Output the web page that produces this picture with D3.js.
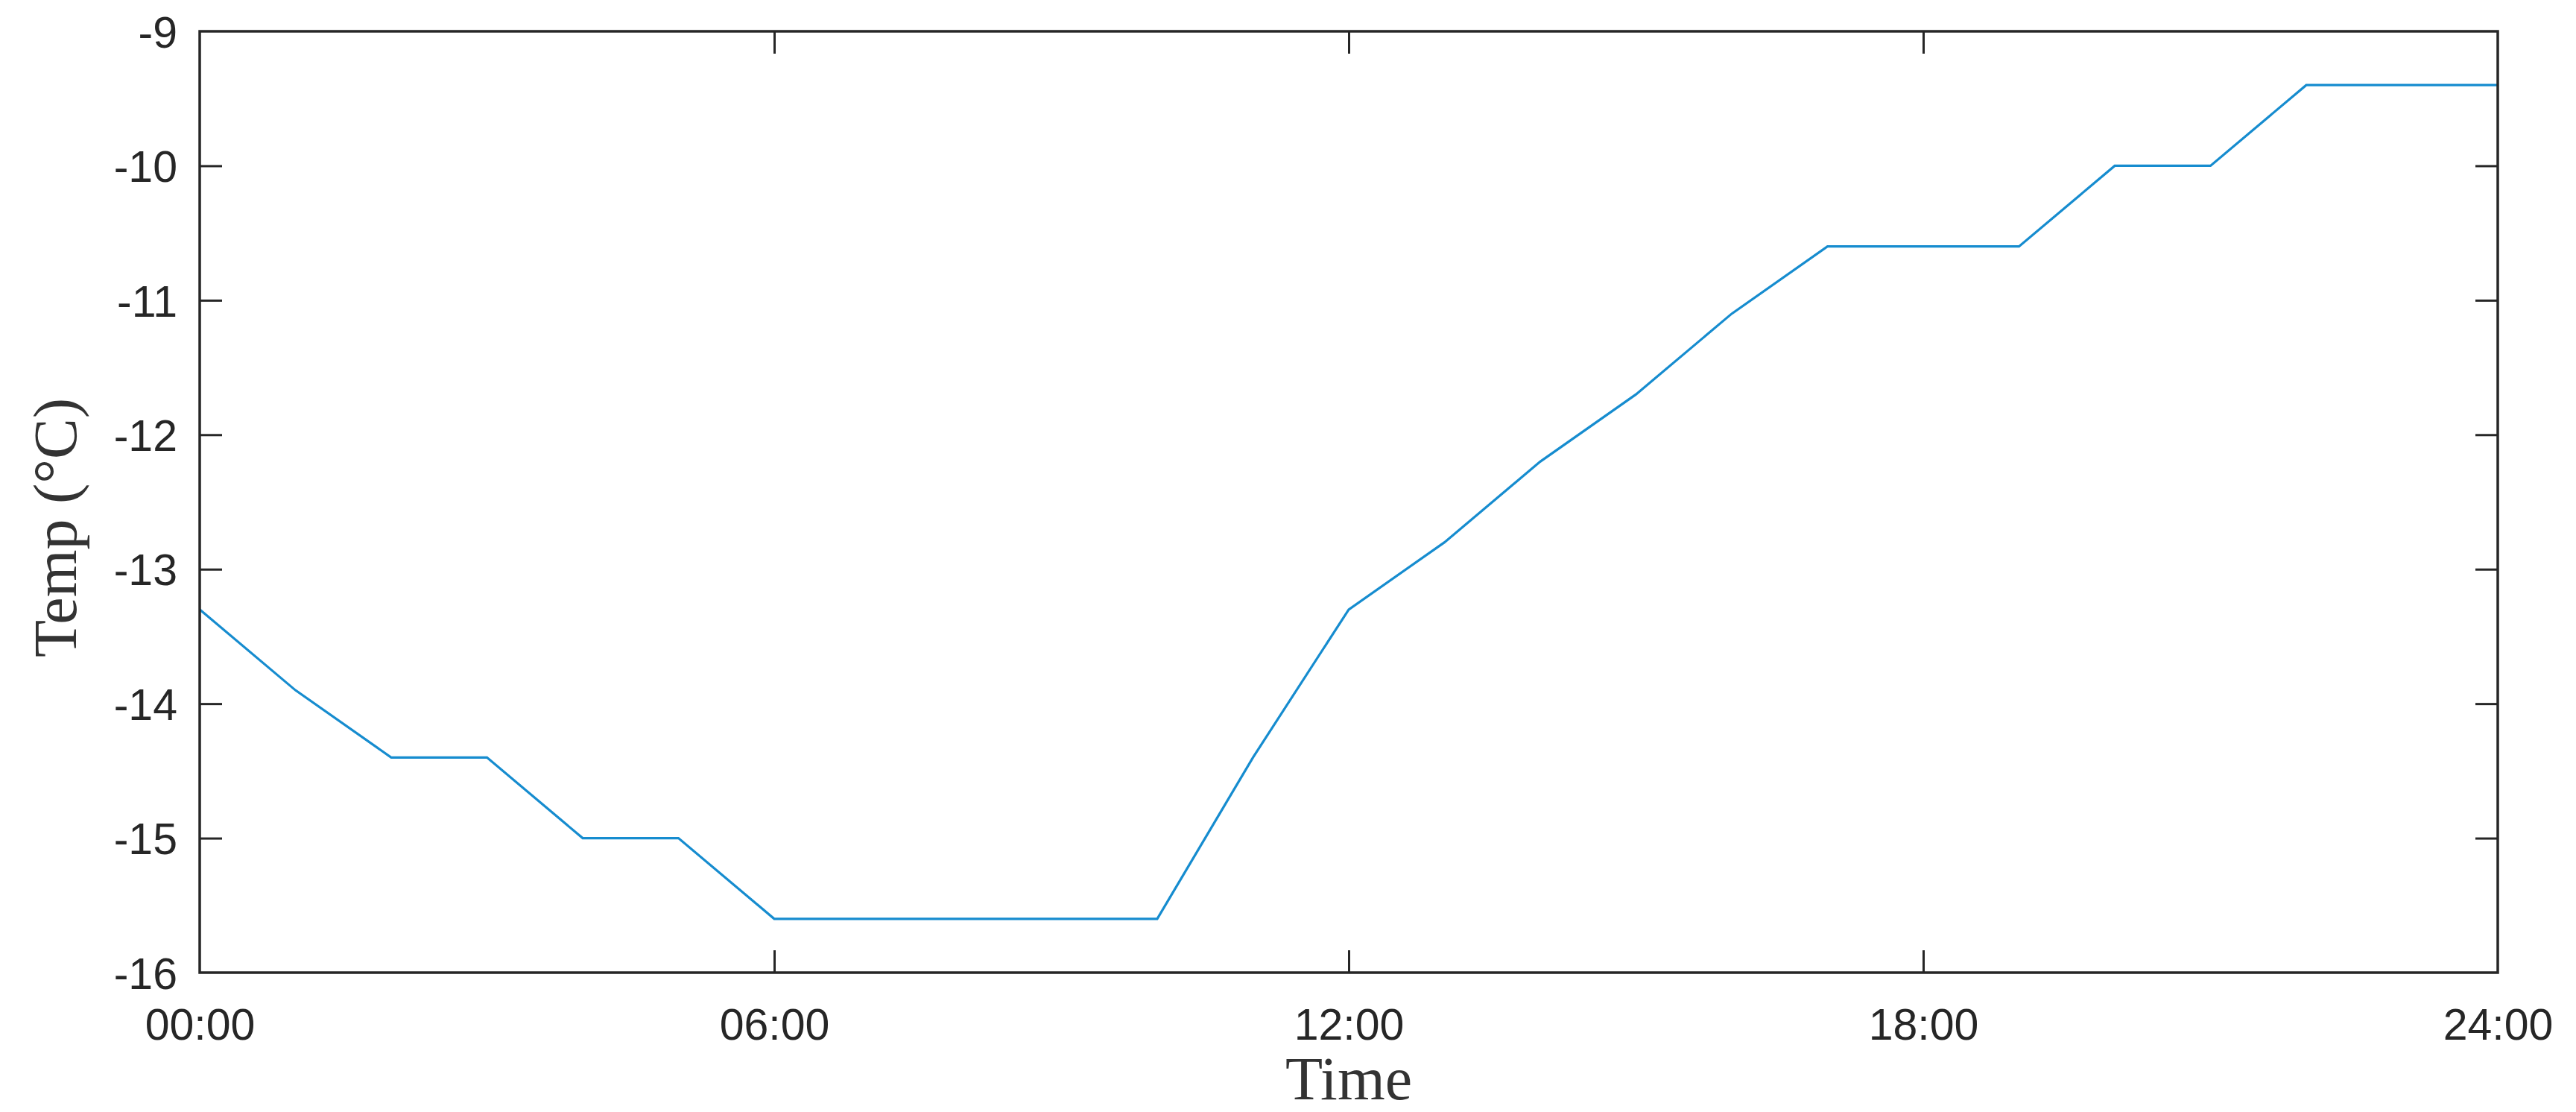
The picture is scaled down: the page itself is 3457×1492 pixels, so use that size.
<!DOCTYPE html>
<html>
<head>
<meta charset="utf-8">
<script src="https://cdn.jsdelivr.net/npm/d3@7"></script>
<style>
  html, body { margin: 0; padding: 0; background: #ffffff; }
  svg { display: block; }
</style>
</head>
<body>
<script>
// ---- data ----
const hours = [0,1,2,3,4,5,6,7,8,9,10,11,12,13,14,15,16,17,18,19,20,21,22,23,24];
const temps = [-13.3,-13.9,-14.4,-14.4,-15.0,-15.0,-15.6,-15.6,-15.6,-15.6,-15.6,-14.4,-13.3,-12.8,-12.2,-11.7,-11.1,-10.6,-10.6,-10.6,-10.0,-10.0,-9.4,-9.4,-9.4];
const xTickValues = [0, 6, 12, 18, 24];
const xTickLabels = ["00:00", "06:00", "12:00", "18:00", "24:00"];
const yTickValues = [-16, -15, -14, -13, -12, -11, -10, -9];
const yTickLabels = ["-16", "-15", "-14", "-13", "-12", "-11", "-10", "-9"];
const xLabel = "Time";
const yLabel = "Temp (°C)";

// ---- layout ----
const W = 3457, H = 1492;
const L = 268, R = 3352, T = 42, B = 1305;
const axisColor = "#262626";
const tickLen = 30;

const svg = d3.select("body").append("svg").attr("width", W).attr("height", H);

const x = d3.scaleLinear().domain([0, 24]).range([L, R]);
const y = d3.scaleLinear().domain([-16, -9]).range([B, T]);

// line
const data = hours.map((h, i) => ({h, t: temps[i]}));
svg.append("path")
  .datum(data)
  .attr("fill", "none")
  .attr("stroke", "#168ccf")
  .attr("stroke-width", 3.2)
  .attr("stroke-linejoin", "miter")
  .attr("d", d3.line().x(d => x(d.h)).y(d => y(d.t)));

const tickStyle = g => {
  g.select(".domain").remove();
  g.selectAll(".tick line").attr("stroke", axisColor).attr("stroke-width", 3);
};

const fmtX = d => xTickLabels[xTickValues.indexOf(d)];
const fmtY = d => yTickLabels[yTickValues.indexOf(d)];

const xBottom = svg.append("g").attr("transform", `translate(0,${B})`)
  .call(d3.axisBottom(x).tickValues(xTickValues).tickFormat(fmtX).tickSizeInner(-tickLen).tickSizeOuter(0).tickPadding(48));
xBottom.call(tickStyle);
xBottom.selectAll(".tick text")
  .attr("font-family", "'Liberation Sans', Arial, sans-serif")
  .attr("font-size", 59).attr("fill", axisColor).attr("dy", "0.71em");

const xTop = svg.append("g").attr("transform", `translate(0,${T})`)
  .call(d3.axisTop(x).tickValues(xTickValues).tickFormat("").tickSizeInner(-tickLen).tickSizeOuter(0));
xTop.call(tickStyle);

const yLeft = svg.append("g").attr("transform", `translate(${L},0)`)
  .call(d3.axisLeft(y).tickValues(yTickValues).tickFormat(fmtY).tickSizeInner(-tickLen).tickSizeOuter(0).tickPadding(30));
yLeft.call(tickStyle);
yLeft.selectAll(".tick text")
  .attr("font-family", "'Liberation Sans', Arial, sans-serif")
  .attr("font-size", 59).attr("fill", axisColor).attr("x", -(L - 238)).attr("dy", "0.36em");

const yRight = svg.append("g").attr("transform", `translate(${R},0)`)
  .call(d3.axisRight(y).tickValues(yTickValues).tickFormat("").tickSizeInner(-tickLen).tickSizeOuter(0));
yRight.call(tickStyle);

// remove tick marks that coincide with the box corners
yLeft.selectAll(".tick").filter(d => d === -16 || d === -9).select("line").remove();
yRight.selectAll(".tick").filter(d => d === -16 || d === -9).select("line").remove();
xBottom.selectAll(".tick").filter(d => d === 0 || d === 24).select("line").remove();
xTop.selectAll(".tick").filter(d => d === 0 || d === 24).select("line").remove();

// box
svg.append("rect")
  .attr("x", L).attr("y", T).attr("width", R - L).attr("height", B - T)
  .attr("fill", "none").attr("stroke", axisColor).attr("stroke-width", 3.5);

// axis labels
svg.append("text")
  .attr("x", (L + R) / 2).attr("y", 1475)
  .attr("text-anchor", "middle")
  .attr("font-family", "'Liberation Serif', 'Times New Roman', serif")
  .attr("font-size", 82).attr("fill", "#333333")
  .text(xLabel);

svg.append("text")
  .attr("transform", "translate(102,708) rotate(-90)")
  .attr("text-anchor", "middle")
  .attr("font-family", "'Liberation Serif', 'Times New Roman', serif")
  .attr("font-size", 82).attr("fill", "#333333")
  .text(yLabel);
</script>
</body>
</html>
